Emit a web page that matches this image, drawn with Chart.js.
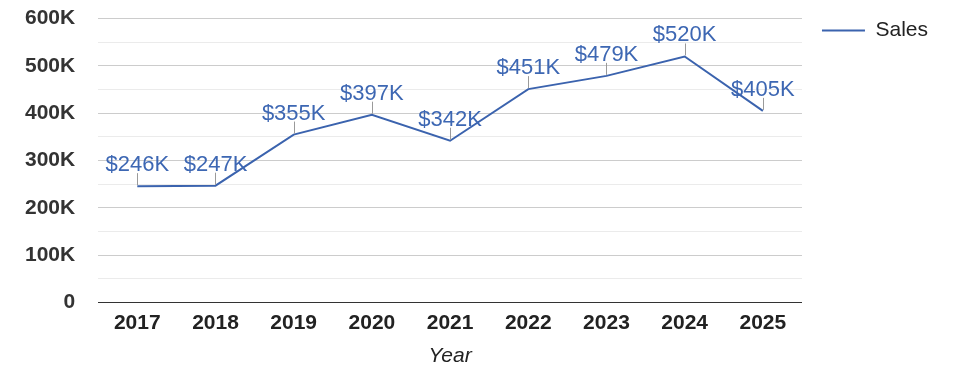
<!DOCTYPE html>
<html>
<head>
<meta charset="utf-8">
<script src="https://cdn.jsdelivr.net/npm/chart.js@4"></script>
<style>
  html, body { margin: 0; padding: 0; background: #fff; }
  #wrap { width: 975px; height: 378px; position: relative; }
</style>
</head>
<body>
<div id="wrap"><canvas id="sales_chart"></canvas></div>
<script>
const years = ['2017', '2018', '2019', '2020', '2021', '2022', '2023', '2024', '2025'];
const sales = [246000, 247000, 355000, 397000, 342000, 451000, 479000, 520000, 405000];
const yTicks = [0, 100000, 200000, 300000, 400000, 500000, 600000];

const FONT = "'Liberation Sans', Arial, sans-serif";
const BLUE = '#3b63ae';

// labels boven de punten, met een klein streepje
const pointLabels = {
    id: 'pointLabels',
    afterDatasetsDraw(chart) {
        const c = chart.ctx;
        const meta = chart.getDatasetMeta(0);
        c.save();
        meta.data.forEach((pt, i) => {
            c.strokeStyle = '#9a9a9a';
            c.lineWidth = 1;
            c.beginPath();
            c.moveTo(Math.round(pt.x) + 0.5, pt.y - 1);
            c.lineTo(Math.round(pt.x) + 0.5, pt.y - 13);
            c.stroke();
            c.fillStyle = '#3d67b3';
            c.font = '22px ' + FONT;
            c.textAlign = 'center';
            c.textBaseline = 'alphabetic';
            c.fillText('$' + Math.round(sales[i] / 1000) + 'K', pt.x, pt.y - 15);
        });
        c.restore();
    }
};

new Chart(document.getElementById('sales_chart').getContext('2d'), {
    type: 'line',
    data: {
        labels: years,
        datasets: [{
            label: 'Sales',
            data: sales,
            borderColor: BLUE,
            backgroundColor: BLUE,
            borderWidth: 2,
            pointRadius: 0,
            tension: 0
        }]
    },
    options: {
        responsive: true,
        maintainAspectRatio: false,
        animation: false,
        layout: { padding: { top: 0, right: 37, left: 19, bottom: 6 } },
        plugins: {
            tooltip: { enabled: false },
            legend: {
                position: 'right',
                align: 'start',
                labels: {
                    usePointStyle: true,
                    pointStyle: 'line',
                    pointStyleWidth: 43,
                    boxHeight: 20,
                    padding: 20,
                    color: '#222',
                    font: { family: FONT, size: 21 }
                }
            }
        },
        scales: {
            x: {
                offset: true,
                grid: { display: false, drawTicks: false },
                border: { color: '#333', width: 1 },
                ticks: {
                    padding: 8,
                    color: '#222',
                    font: { family: FONT, size: 21, weight: 'bold' }
                },
                title: {
                    display: true,
                    text: 'Year',
                    color: '#222',
                    padding: { top: 0, bottom: 3 },
                    font: { family: FONT, size: 21, style: 'italic' }
                }
            },
            y: {
                min: 0,
                max: 600000,
                border: { display: false },
                grid: {
                    drawTicks: true,
                    tickLength: 17,
                    tickColor: 'rgba(0,0,0,0)',
                    color: c => c.tick.value === 0 ? '#333' : (c.tick.value % 100000 === 0 ? '#cccccc' : '#ebebeb'),
                    lineWidth: 1
                },
                ticks: {
                    stepSize: 50000,
                    autoSkip: false,
                    padding: 6,
                    color: '#333',
                    font: { family: FONT, size: 21, weight: 'bold' },
                    callback: v => yTicks.includes(v) ? (v === 0 ? '0' : (v / 1000) + 'K') : ''
                }
            }
        }
    },
    plugins: [pointLabels]
});
</script>
</body>
</html>
